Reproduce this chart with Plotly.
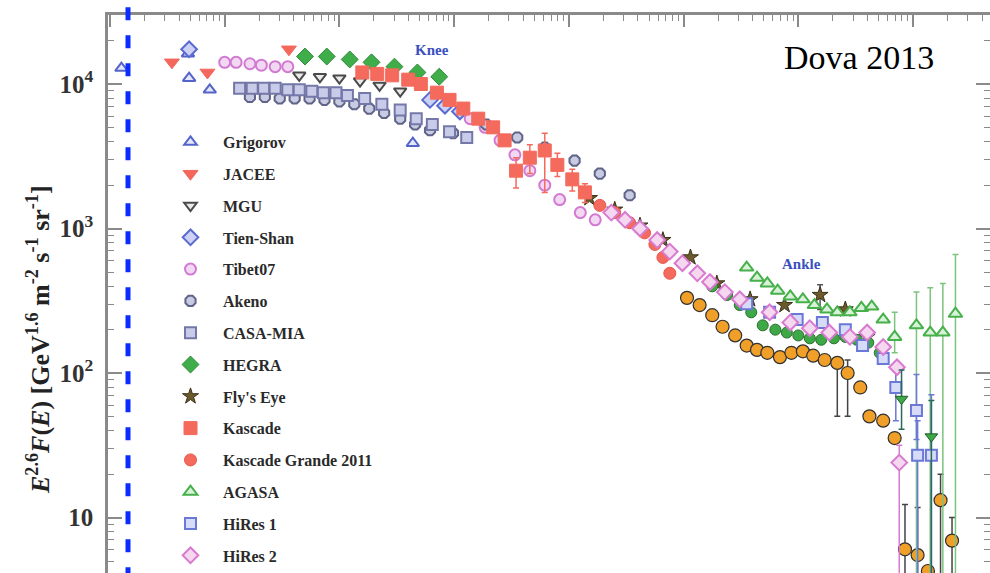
import plotly.graph_objects as go

# ---------------- data (log10 E [GeV], log10 of E^2.6 F(E)) ----------------
grigorov_lgE = [4.10, 4.68, 4.69, 4.87, 6.64]
grigorov_lgF = [4.11, 4.21, 4.04, 3.96, 3.59]

jacee_lgE = [4.54, 4.85, 5.56]
jacee_lgF = [4.15, 4.08, 4.24]

mgu_lgE = [5.65, 5.83, 6.00, 6.18, 6.35, 6.53]
mgu_lgF = [4.06, 4.05, 4.04, 4.02, 3.99, 3.95]

tienshan_lgE = [4.69, 6.79, 6.92, 7.05]
tienshan_lgF = [4.24, 3.89, 3.85, 3.81]

tibet_lgE = [5.00, 5.10, 5.22, 5.32, 5.44, 5.55, 7.14, 7.27, 7.40, 7.53, 7.66, 7.79, 7.92, 8.10, 8.23]
tibet_lgF = [4.15, 4.15, 4.14, 4.13, 4.12, 4.12, 3.76, 3.70, 3.61, 3.51, 3.40, 3.30, 3.20, 3.11, 3.06]

akeno_lgE = [5.22, 5.35, 5.48, 5.61, 5.74, 5.87, 6.00, 6.13, 6.26, 6.39, 6.53, 6.66, 6.79,
             6.99, 7.28, 7.55, 7.79, 8.05, 8.27, 8.53]
akeno_lgF = [3.91, 3.91, 3.90, 3.90, 3.90, 3.89, 3.88, 3.86, 3.83, 3.80, 3.76, 3.72, 3.68,
             3.66, 3.72, 3.63, 3.56, 3.47, 3.38, 3.23]

casamia_lgE = [5.13, 5.24, 5.34, 5.44, 5.55, 5.65, 5.76, 5.86, 5.97, 6.07, 6.22, 6.37, 6.53, 6.67, 6.81, 6.96, 7.11]
casamia_lgF = [3.97, 3.97, 3.97, 3.97, 3.96, 3.96, 3.95, 3.94, 3.94, 3.92, 3.90, 3.86, 3.82, 3.76, 3.72, 3.67, 3.63]

hegra_lgE = [5.70, 5.89, 6.09, 6.28, 6.48, 6.68, 6.87]
hegra_lgF = [4.19, 4.19, 4.17, 4.15, 4.12, 4.08, 4.05]

flyseye_lgE = [8.18, 8.40, 8.62, 8.82, 9.06, 9.29, 9.58, 9.88, 10.19, 10.41, 10.60]
flyseye_lgF = [3.21, 3.13, 3.02, 2.92, 2.80, 2.62, 2.51, 2.47, 2.54, 2.44, 2.25]
flyseye_hi = [None, None, None, None, None, None, None, None, 2.61, None, None]
flyseye_lo = [None, None, None, None, None, None, None, None, 2.44, None, None]

kascade_lgE = [6.20, 6.33, 6.46, 6.60, 6.71, 6.85, 6.96, 7.08, 7.21, 7.34, 7.44, 7.54, 7.66, 7.79, 7.90, 8.03, 8.14]
kascade_lgF = [4.08, 4.07, 4.06, 4.03, 4.00, 3.94, 3.89, 3.83, 3.76, 3.70, 3.61, 3.40, 3.49, 3.54, 3.44, 3.34, 3.25]
kascade_hi = [None] * 11 + [3.49, 3.58, 3.66, 3.52, 3.41, 3.31]
kascade_lo = [None] * 11 + [3.28, 3.38, 3.25, 3.36, 3.26, 3.18]

kg2011_lgE = [8.27, 8.40, 8.53, 8.66, 8.75, 8.82, 8.88]
kg2011_lgF = [3.16, 3.11, 3.04, 2.97, 2.89, 2.80, 2.69]

agasa_lgE = [9.55, 9.64, 9.73, 9.82, 9.93, 10.04, 10.14, 10.25, 10.34, 10.45, 10.55, 10.64, 10.74,
             10.84, 11.03, 11.15, 11.26, 11.37]
agasa_lgF = [2.73, 2.66, 2.62, 2.57, 2.53, 2.51, 2.47, 2.44, 2.42, 2.42, 2.45, 2.46, 2.37,
             2.25, 2.33, 2.28, 2.28, 2.41]
agasa_hi = [None] * 13 + [2.42, 2.56, 2.59, 2.62, 2.82]
agasa_lo = [None] * 13 + [2.14, 0.30, 0.30, 0.30, 0.30]

hires1_lgE = [9.55, 9.75, 9.99, 10.21, 10.41, 10.56, 10.74, 10.85, 11.03, 11.04, 11.16]
hires1_lgF = [2.48, 2.42, 2.37, 2.35, 2.30, 2.19, 2.10, 1.90, 1.74, 1.43, 1.43]
hires1_hi = [None] * 7 + [2.06, 1.99, 1.67, 1.85]
hires1_lo = [None] * 7 + [1.67, 1.54, 0.30, 0.30]

hires2_lgE = [8.37, 8.49, 8.62, 8.77, 8.88, 8.99, 9.12, 9.23, 9.36, 9.49, 9.75, 9.93, 10.10,
              10.27, 10.45, 10.60, 10.74, 10.86, 10.88]
hires2_lgF = [3.11, 3.06, 3.00, 2.92, 2.84, 2.76, 2.69, 2.63, 2.56, 2.51, 2.42, 2.35, 2.31,
              2.28, 2.25, 2.28, 2.18, 2.04, 1.38]
hires2_hi = [None] * 18 + [1.50]
hires2_lo = [None] * 18 + [0.30]

auger_lgE = [9.03, 9.14, 9.25, 9.34, 9.45, 9.55, 9.64, 9.73, 9.84, 9.94, 10.04, 10.13, 10.23,
             10.34, 10.43, 10.54, 10.62, 10.74, 10.84, 10.93, 11.04, 11.13, 11.24, 11.34]
auger_lgF = [2.52, 2.47, 2.40, 2.32, 2.26, 2.19, 2.16, 2.14, 2.11, 2.14, 2.15, 2.12, 2.09,
             2.07, 2.00, 1.90, 1.70, 1.67, 1.55, 0.78, 0.74, 0.63, 1.12, 0.84]
auger_hi = [None] * 13 + [None, 2.09, None, None, None, None, 1.09, 1.07, None, 1.30, 1.00]
auger_lo = [None] * 13 + [1.70, 1.70, None, None, None, None, 0.30, 0.30, None, 0.30, 0.30]

yakutsk_lgE = [9.25, 9.38, 9.49, 9.59, 9.69, 9.80, 9.90, 10.00, 10.10, 10.20, 10.31, 10.41, 10.51, 10.61, 10.71]
yakutsk_lgF = [2.60, 2.54, 2.47, 2.42, 2.33, 2.30, 2.28, 2.26, 2.24, 2.23, 2.24, 2.25, 2.23, 2.21, 2.14]

ta_lgE = [10.90, 11.16]
ta_lgF = [1.82, 1.56]
ta_hi = [2.02, 1.81]
ta_lo = [1.61, 0.30]

# ---------------- figure ----------------
SERIF = "Liberation Serif"
W, H = 990, 573
L, R, T, B = 108, 0, 15, 0
PW, PH = W - L - R, H - T - B


def series(name, lgE, lgF, symbol, fill, edge, size=11, lw=1.5, legend=True,
           hi=None, lo=None, errcolor=None):
    E = [10 ** v for v in lgE]
    F = [10 ** v for v in lgF]
    tr = dict(x=E, y=F, mode="markers", name=name, legendgroup=name, showlegend=legend,
              marker=dict(symbol=symbol, size=size, color=fill, line=dict(color=edge, width=lw)))
    if hi is not None:
        up = [(10 ** h - f) if h is not None else 0 for h, f in zip(hi, F)]
        dn = [(f - 10 ** l) if l is not None else 0 for l, f in zip(lo, F)]
        tr["error_y"] = dict(type="data", symmetric=False, array=up, arrayminus=dn,
                             color=errcolor or edge, thickness=1.5, width=3)
    return go.Scatter(**tr)


fig = go.Figure()
fig.add_trace(series("Grigorov", grigorov_lgE, grigorov_lgF, "triangle-up", "rgba(210,215,245,0.6)", "#5564c8", 11, 2))
fig.add_trace(series("JACEE", jacee_lgE, jacee_lgF, "triangle-down", "#f4675c", "#f4675c", 13, 1))
fig.add_trace(series("MGU", mgu_lgE, mgu_lgF, "triangle-down", "rgba(220,220,220,0.6)", "#4a4a4a", 11, 2))
fig.add_trace(series("Tien-Shan", tienshan_lgE, tienshan_lgF, "diamond", "#cdd2f5", "#5a6ad0", 12, 2))
fig.add_trace(series("Tibet07", tibet_lgE, tibet_lgF, "circle", "#f3d8f3", "#d27ad2", 11, 2))
fig.add_trace(series("Akeno", akeno_lgE, akeno_lgF, "octagon", "#c9cbe2", "#5f6488", 11, 2))
fig.add_trace(series("CASA-MIA", casamia_lgE, casamia_lgF, "square", "#c9cce8", "#7478a8", 11, 2))
fig.add_trace(series("HEGRA", hegra_lgE, hegra_lgF, "diamond", "#3fae4a", "#2f8a38", 13, 1))
fig.add_trace(series("Fly's Eye", flyseye_lgE, flyseye_lgF, "star", "#6b5a2c", "#3a3018", 12, 1,
                     hi=flyseye_hi, lo=flyseye_lo, errcolor="#555555"))
fig.add_trace(series("Kascade", kascade_lgE, kascade_lgF, "square", "#f46a5c", "#f46a5c", 13, 1,
                     hi=kascade_hi, lo=kascade_lo))
fig.add_trace(series("Kascade Grande 2011", kg2011_lgE, kg2011_lgF, "circle", "#f46a5c", "#e85548", 12, 1))
fig.add_trace(series("Yakutsk", yakutsk_lgE, yakutsk_lgF, "circle", "#3da846", "#2b6d2e", 11, 1, legend=False))
fig.add_trace(series("Auger", auger_lgE, auger_lgF, "circle", "#f0a028", "#303030", 13, 1.2, legend=False,
                     hi=auger_hi, lo=auger_lo, errcolor="#444444"))
fig.add_trace(series("AGASA", agasa_lgE, agasa_lgF, "triangle-up", "#d9f0d9", "#46b04a", 12, 2,
                     hi=agasa_hi, lo=agasa_lo, errcolor="#7cc47e"))
fig.add_trace(series("HiRes 1", hires1_lgE, hires1_lgF, "square", "#d6dbf7", "#6a78d8", 11, 2,
                     hi=hires1_hi, lo=hires1_lo))
fig.add_trace(series("HiRes 2", hires2_lgE, hires2_lgF, "diamond", "#f5d8f0", "#d87ad0", 12, 2,
                     hi=hires2_hi, lo=hires2_lo))
fig.add_trace(series("Telescope Array", ta_lgE, ta_lgF, "triangle-down", "#3da846", "#1f5e2a", 11, 1, legend=False,
                     hi=ta_hi, lo=ta_lo, errcolor="#2a6a5a"))

AX = "#8a8a8a"
fig.update_xaxes(type="log", range=[3.983, 11.671], side="top", showticklabels=False,
                 ticks="inside", ticklen=12, tickwidth=1.5, tickcolor=AX, dtick=1,
                 showline=True, linecolor=AX, linewidth=2.5, mirror=False,
                 showgrid=False, zeroline=False,
                 minor=dict(ticks="inside", ticklen=6, tickwidth=1.2, tickcolor=AX, showgrid=False))
fig.update_yaxes(type="log", range=[0.616, 4.4775],
                 ticks="inside", ticklen=14, tickwidth=1.5, tickcolor=AX, dtick=1,
                 exponentformat="power", showline=True, linecolor=AX, linewidth=2.5, mirror="ticks",
                 showgrid=False, zeroline=False, ticklabelstandoff=8,
                 tickfont=dict(family=SERIF, size=20, color="#333333", weight="bold"),
                 minor=dict(ticks="inside", ticklen=6, tickwidth=1.2, tickcolor=AX, showgrid=False))

fig.add_shape(type="line", xref="paper", yref="paper",
              x0=(128 - L) / PW, x1=(128 - L) / PW, y0=1.014, y1=0,
              line=dict(color="#0a2cff", width=5, dash="13px,15px"))

fig.add_annotation(x=6.81, y=4.235, xref="x", yref="y", text="Knee", showarrow=False,
                   xanchor="center", yanchor="middle",
                   font=dict(family=SERIF, size=15, color="#3a4fc0", weight="bold"))
fig.add_annotation(x=10.03, y=2.754, xref="x", yref="y", text="Ankle", showarrow=False,
                   xanchor="center", yanchor="middle",
                   font=dict(family=SERIF, size=15, color="#3a4fc0", weight="bold"))
fig.add_annotation(x=(859 - L) / PW, y=(H - 57) / PH, xref="paper", yref="paper", text="Dova 2013",
                   showarrow=False, xanchor="center", yanchor="middle",
                   font=dict(family=SERIF, size=34, color="#000000"))
fig.add_annotation(x=(38 - L) / PW, y=(H - 340) / PH, xref="paper", yref="paper", textangle=-90,
                   xanchor="center", yanchor="middle",
                   text="<i>E</i><sup>2.6</sup><i>F</i>(<i>E</i>) [GeV<sup>1.6</sup> m<sup>-2</sup> s<sup>-1</sup> sr<sup>-1</sup>]",
                   showarrow=False, font=dict(family=SERIF, size=26, color="#222222", weight="bold"))

fig.update_layout(
    width=W, height=H, margin=dict(l=L, r=R, t=T, b=B, autoexpand=False),
    paper_bgcolor="white", plot_bgcolor="white",
    legend=dict(x=(158 - L) / PW, y=(H - 125) / PH, xanchor="left", yanchor="top",
                bgcolor="rgba(0,0,0,0)", tracegroupgap=8, itemwidth=55,
                font=dict(family=SERIF, size=16, color="#2a2a2a", weight="bold")),
    showlegend=True,
)

fig.write_html("out.html")
